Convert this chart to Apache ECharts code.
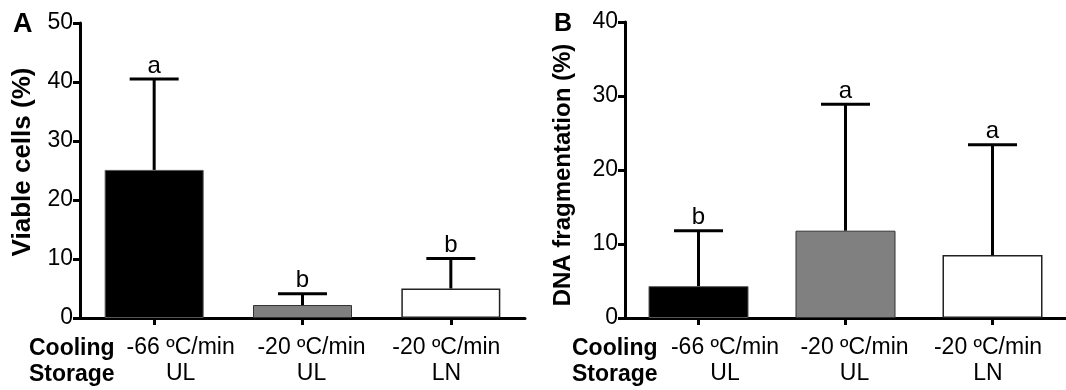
<!DOCTYPE html>
<html>
<head>
<meta charset="utf-8">
<title>Viable cells / DNA fragmentation</title>
<script src="https://cdn.jsdelivr.net/npm/echarts@6.0.0/dist/echarts.min.js"></script>
<style>
  html, body { margin: 0; padding: 0; background: #fff; }
  #main { width: 1066px; height: 390px; }
</style>
</head>
<body>
<div id="main"></div>
<script>
// categories (cooling rate \n storage)
const categories = ['-66 ºC/min\nUL', '-20 ºC/min\nUL', '-20 ºC/min\nLN'];

// panel A: viable cells (%)
const viableMean = [25.1, 2.2, 5.0];
const viableUpper = [40.5, 4.1, 10.1];
const viableLetters = ['a', 'b', 'b'];

// panel B: DNA fragmentation (%)
const dnaMean = [4.3, 11.8, 8.5];
const dnaUpper = [11.8, 28.9, 23.4];
const dnaLetters = ['b', 'a', 'a'];

const barFill = ['#000000', '#808080', '#ffffff'];
const barBorder = ['#555555', '#333333', '#222222'];
const FONT = 'Liberation Sans, Arial, sans-serif';

var chart = echarts.init(document.getElementById('main'));

function barData(vals) {
  return vals.map((v, i) => ({
    value: v,
    itemStyle: { color: barFill[i], borderColor: barBorder[i], borderWidth: i === 2 ? 1.5 : 1 }
  }));
}

function errData(mean, upper) {
  return mean.map((m, i) => [i, m, upper[i]]);
}

function errRender(letters) {
  return function (params, api) {
    var lo = api.coord([api.value(0), api.value(1)]);
    var hi = api.coord([api.value(0), api.value(2)]);
    var half = 24.5;
    return {
      type: 'group',
      children: [
        { type: 'line', shape: { x1: lo[0], y1: lo[1], x2: hi[0], y2: hi[1] }, style: { stroke: '#000', lineWidth: 3 } },
        { type: 'line', shape: { x1: hi[0] - half, y1: hi[1], x2: hi[0] + half, y2: hi[1] }, style: { stroke: '#000', lineWidth: 3 } },
        { type: 'text', x: hi[0], y: hi[1] - 1,
          style: { text: letters[params.dataIndex], fontSize: 24, fontFamily: FONT, fill: '#000', align: 'center', verticalAlign: 'bottom' } }
      ]
    };
  };
}

// shift of the category labels, as in the source figure
const labelRich = {
  s0: { fontSize: 23, lineHeight: 26, fontFamily: FONT, color: '#000', padding: [0, 0, 0, 53] },
  s1: { fontSize: 23, lineHeight: 26, fontFamily: FONT, color: '#000', padding: [0, 0, 0, 18] },
  s2: { fontSize: 23, lineHeight: 26, fontFamily: FONT, color: '#000', padding: [0, 9, 0, 0] }
};

function xAxisFor(gridIndex) {
  return {
    type: 'category',
    gridIndex: gridIndex,
    data: categories,
    axisLine: { lineStyle: { color: '#000', width: 3 } },
    axisTick: { show: true, alignWithLabel: true, length: 7, lineStyle: { color: '#000', width: 3 } },
    axisLabel: {
      interval: 0,
      margin: 17,
      formatter: (v, i) => v.split('\n').map(s => '{s' + i + '|' + s + '}').join('\n'),
      rich: labelRich
    }
  };
}

function yAxisFor(gridIndex, max) {
  return {
    type: 'value',
    gridIndex: gridIndex,
    min: 0,
    max: max,
    interval: 10,
    axisLine: { show: true, lineStyle: { color: '#000', width: 3 } },
    axisTick: { show: true, length: 7, lineStyle: { color: '#000', width: 3 } },
    axisLabel: { fontSize: 23, fontFamily: FONT, color: '#000', margin: 7 },
    splitLine: { show: false }
  };
}

var option = {
  animation: false,
  backgroundColor: '#fff',
  grid: [
    { left: 80, top: 23, width: 445, height: 295 },
    { left: 625, top: 22, width: 444, height: 296 }
  ],
  xAxis: [xAxisFor(0), xAxisFor(1)],
  yAxis: [yAxisFor(0, 50), yAxisFor(1, 40)],
  series: [
    { type: 'bar', xAxisIndex: 0, yAxisIndex: 0, barWidth: 99, data: barData(viableMean) },
    { type: 'custom', xAxisIndex: 0, yAxisIndex: 0, data: errData(viableMean, viableUpper), renderItem: errRender(viableLetters), z: 3 },
    { type: 'bar', xAxisIndex: 1, yAxisIndex: 1, barWidth: 100, data: barData(dnaMean) },
    { type: 'custom', xAxisIndex: 1, yAxisIndex: 1, data: errData(dnaMean, dnaUpper), renderItem: errRender(dnaLetters), z: 3 }
  ],
  graphic: [
    { type: 'text', x: 13, y: 25, style: { text: 'A', fontSize: 27, fontWeight: 'bold', fontFamily: FONT, fill: '#000', verticalAlign: 'middle' } },
    { type: 'text', x: 554, y: 24, style: { text: 'B', fontSize: 25, fontWeight: 'bold', fontFamily: FONT, fill: '#000', verticalAlign: 'middle' } },
    { type: 'text', x: 23, y: 162, rotation: Math.PI / 2,
      style: { text: 'Viable cells (%)', fontSize: 26, fontWeight: 'bold', fontFamily: FONT, fill: '#000', align: 'center', verticalAlign: 'middle' } },
    { type: 'text', x: 563, y: 175, rotation: Math.PI / 2,
      style: { text: 'DNA fragmentation (%)', fontSize: 24, fontWeight: 'bold', fontFamily: FONT, fill: '#000', align: 'center', verticalAlign: 'middle' } },
    { type: 'text', x: 29, y: 349, style: { text: 'Cooling', fontSize: 23, fontWeight: 'bold', fontFamily: FONT, fill: '#000', verticalAlign: 'middle' } },
    { type: 'text', x: 29, y: 375, style: { text: 'Storage', fontSize: 23, fontWeight: 'bold', fontFamily: FONT, fill: '#000', verticalAlign: 'middle' } },
    { type: 'text', x: 572, y: 349, style: { text: 'Cooling', fontSize: 23, fontWeight: 'bold', fontFamily: FONT, fill: '#000', verticalAlign: 'middle' } },
    { type: 'text', x: 572, y: 375, style: { text: 'Storage', fontSize: 23, fontWeight: 'bold', fontFamily: FONT, fill: '#000', verticalAlign: 'middle' } }
  ]
};

chart.setOption(option);
</script>
</body>
</html>
